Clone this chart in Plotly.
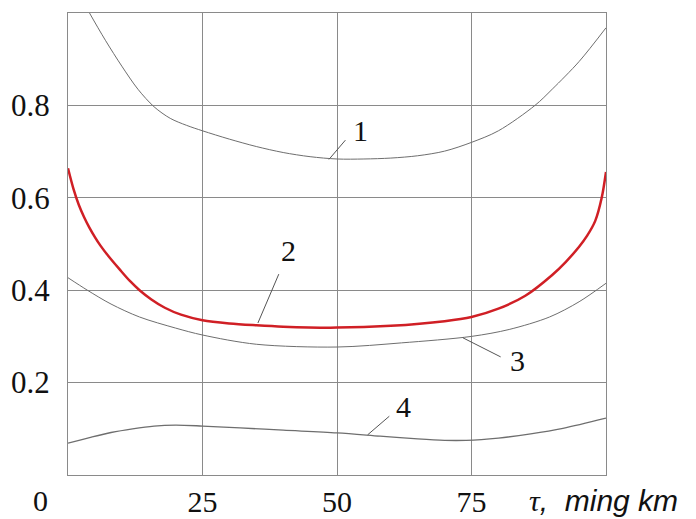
import plotly.graph_objects as go

# Curve 1
tau1 = [0, 4, 7, 10, 13, 16, 19, 22, 25, 30, 35, 40, 45, 50, 55, 60, 65, 70, 75, 80, 86.8, 90, 95, 100]
val1 = [1.085, 1.0, 0.94, 0.885, 0.835, 0.797, 0.772, 0.757, 0.745, 0.727, 0.711, 0.698, 0.689, 0.684, 0.684, 0.686, 0.691, 0.701, 0.72, 0.745, 0.80, 0.835, 0.895, 0.968]
# Curve 2 (red)
tau2 = [0, 1, 2, 3, 4, 5, 6, 7.5, 9.6, 11.5, 13.3, 15.5, 18, 21, 25, 30, 35, 40, 50, 60, 70, 75, 80, 85, 90, 92.5, 95, 96.5, 98, 99.2, 100]
val2 = [0.664, 0.62, 0.585, 0.558, 0.535, 0.515, 0.497, 0.474, 0.445, 0.42, 0.40, 0.38, 0.362, 0.347, 0.335, 0.328, 0.324, 0.321, 0.319, 0.323, 0.333, 0.342, 0.36, 0.388, 0.433, 0.461, 0.494, 0.518, 0.55, 0.60, 0.656]
# Curve 3
tau3 = [0, 3.6, 8, 13.3, 20, 25, 35, 50, 62, 75, 82, 89.5, 95, 100]
val3 = [0.427, 0.40, 0.37, 0.342, 0.318, 0.303, 0.283, 0.277, 0.286, 0.30, 0.315, 0.342, 0.375, 0.415]
# Curve 4
tau4 = [0, 4, 8, 12, 16, 20, 25, 32, 40, 50, 58, 65, 70, 74, 80, 86, 92, 100]
val4 = [0.069, 0.081, 0.092, 0.1, 0.106, 0.108, 0.106, 0.102, 0.097, 0.091, 0.084, 0.078, 0.075, 0.075, 0.08, 0.089, 0.101, 0.123]

# Curve labels: text, label position, leader start on curve
label_text = ["1", "2", "3", "4"]
label_x = [54.3, 41.0, 83.6, 62.3]
label_y = [0.745, 0.485, 0.247, 0.148]
leader_x0 = [48.5, 35.3, 73.4, 55.7]
leader_y0 = [0.683, 0.329, 0.297, 0.087]
leader_x1 = [51.8, 39.3, 80.7, 60.0]
leader_y1 = [0.728, 0.438, 0.254, 0.13]

x_ticks = [25, 50, 75]
x_ticklabels = ["25", "50", "75"]
y_ticks = [0.2, 0.4, 0.6, 0.8]
y_ticklabels = ["0.2", "0.4", "0.6", "0.8"]

SERIF = "Liberation Serif"
gray_line = "#6e6e6e"
grid_color = "#8a8a8a"

fig = go.Figure()
for t, v, c, w in [(tau1, val1, gray_line, 1), (tau3, val3, gray_line, 1),
                   (tau4, val4, gray_line, 1.3), (tau2, val2, "#d01f25", 2.5)]:
    fig.add_trace(go.Scatter(x=t, y=v, mode="lines",
                             line=dict(color=c, width=w, shape="spline", smoothing=0.9),
                             showlegend=False, hoverinfo="skip"))

annotations = []
for i in range(4):
    annotations.append(dict(x=leader_x0[i], y=leader_y0[i], ax=leader_x1[i], ay=leader_y1[i],
                            xref="x", yref="y", axref="x", ayref="y", text="",
                            showarrow=True, arrowhead=0, arrowwidth=1, arrowcolor="#555"))
    annotations.append(dict(x=label_x[i], y=label_y[i], xref="x", yref="y", text=label_text[i],
                            showarrow=False, font=dict(family=SERIF, size=30, color="#111")))

annotations.append(dict(x=0, y=0, xref="x", yref="y", xshift=-28, yshift=-25, text="0",
                        showarrow=False, font=dict(family=SERIF, size=30, color="#111")))
annotations.append(dict(x=1.0, y=0, xref="paper", yref="paper", xanchor="left", yanchor="middle",
                        xshift=-79, yshift=-25, showarrow=False,
                        text="<i>τ</i><span style='font-family:Liberation Sans'><i>,&nbsp; ming km</i></span>",
                        font=dict(family=SERIF, size=30, color="#111")))

fig.update_layout(
    width=696, height=519,
    margin=dict(l=60, r=98, t=5, b=52),
    paper_bgcolor="white", plot_bgcolor="white",
    annotations=annotations,
    xaxis=dict(range=[0, 100], tickvals=x_ticks, ticktext=x_ticklabels, ticks="",
               showgrid=True, gridcolor=grid_color, gridwidth=1, zeroline=False,
               showline=True, linecolor=grid_color, linewidth=1, mirror=True,
               ticklabelstandoff=0, automargin=False,
               tickfont=dict(family=SERIF, size=30, color="#111")),
    yaxis=dict(range=[0, 1.0], tickvals=y_ticks, ticktext=y_ticklabels, ticks="",
               showgrid=True, gridcolor=grid_color, gridwidth=1, zeroline=False,
               showline=True, linecolor=grid_color, linewidth=1, mirror=True,
               ticklabelstandoff=11, automargin=False,
               tickfont=dict(family=SERIF, size=31, color="#111")),
)

fig.write_html("out.html")
